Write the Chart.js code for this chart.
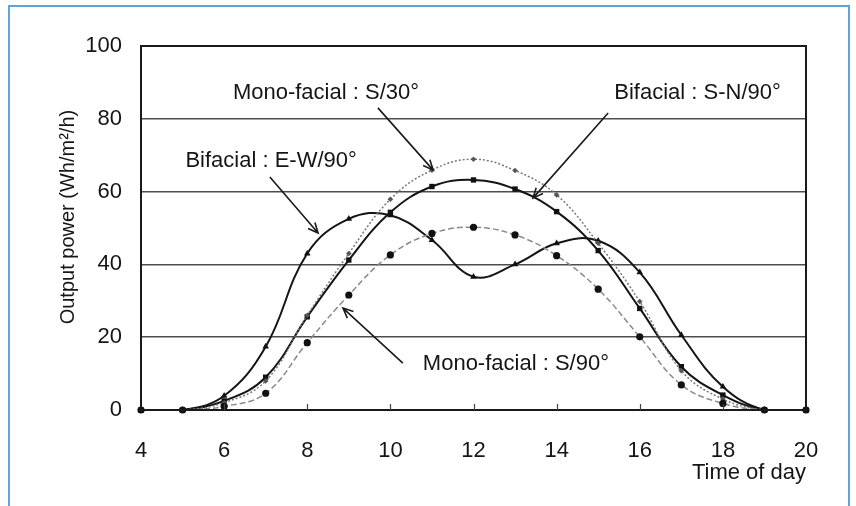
<!DOCTYPE html>
<html>
<head>
<meta charset="utf-8">
<title>Output power vs time of day</title>
<script src="https://cdn.jsdelivr.net/npm/chart.js@4.4.1/dist/chart.umd.min.js"></script>
<style>
  html, body { margin: 0; padding: 0; background: #ffffff; }
  #wrap { position: relative; width: 856px; height: 506px; overflow: hidden; }
  #c { position: absolute; left: 0; top: 0; }
  #frame {
    position: absolute; left: 8px; top: 5px; width: 842px; height: 540px;
    border: 2px solid #62a3dc; box-sizing: border-box; pointer-events: none;
  }
</style>
</head>
<body>
<div id="wrap">
  <canvas id="c" width="856" height="506"></canvas>
  <div id="frame"></div>
</div>
<script>
// Hourly output power (Wh/m²/h) for four module orientations
const hours = [4, 5, 6, 7, 8, 9, 10, 11, 12, 13, 14, 15, 16, 17, 18, 19, 20];
const bifacialEW = [0, 0, 3.9, 17.4, 43.0, 52.5, 53.5, 46.7, 36.6, 40.0, 45.8, 46.5, 37.8, 20.6, 6.4, 0, 0];
const bifacialSN = [0, 0, 2.5, 9.0, 25.6, 41.2, 54.3, 61.4, 63.2, 60.7, 54.5, 43.8, 27.9, 11.9, 4.1, 0, 0];
const monoS30    = [0, 0, 2.0, 8.0, 26.0, 43.0, 57.9, 65.9, 68.9, 65.8, 59.1, 45.8, 29.8, 10.8, 3.0, 0, 0];
const monoS90    = [0, 0, 1.0, 4.6, 18.5, 31.6, 42.6, 48.5, 50.2, 48.1, 42.4, 33.2, 20.1, 6.9, 1.8, 0, 0];
const xTicks = [4, 6, 8, 10, 12, 14, 16, 18, 20];
const yTicks = [0, 20, 40, 60, 80, 100];
const yTitle = 'Output power (Wh/m²/h)';

const FONT = "'Liberation Sans', Arial, sans-serif";
const TEXT = '#151515';

// Callout labels with arrows, placed in data coordinates
const callouts = [
  { text: 'Mono-facial : S/30°',  at: [8.45, 87.1],  from: [9.70, 83.0],  to: [11.03, 65.9] },
  { text: 'Bifacial : E-W/90°',   at: [7.13, 68.4],  from: [7.10, 64.0],  to: [8.26, 48.6] },
  { text: 'Bifacial : S-N/90°',   at: [17.39, 87.1], from: [15.24, 81.6], to: [13.43, 58.2] },
  { text: 'Mono-facial : S/90°',  at: [13.02, 12.6], from: [10.30, 12.9], to: [8.86, 28.0] }
];

const toPoints = vals => hours.map((h, i) => ({ x: h, y: vals[i] }));

// Plot frame, inward x tick marks, y-axis title and callouts
const decorations = {
  id: 'decorations',
  afterDatasetsDraw(chart) {
    const { ctx, chartArea: a, scales: { x, y } } = chart;
    ctx.save();
    ctx.strokeStyle = '#1a1a1a';
    ctx.lineWidth = 2;
    ctx.strokeRect(a.left, a.top, a.right - a.left, a.bottom - a.top);
    ctx.lineWidth = 1.2;
    ctx.strokeStyle = '#444';
    xTicks.slice(1, -1).forEach(v => {
      const px = Math.round(x.getPixelForValue(v)) + 0.5;
      ctx.beginPath();
      ctx.moveTo(px, a.bottom);
      ctx.lineTo(px, a.bottom - 6);
      ctx.stroke();
    });

    // rotated y-axis title, set a little above the axis centre
    ctx.fillStyle = TEXT;
    ctx.save();
    ctx.translate(a.left - 73, y.getPixelForValue(53));
    ctx.rotate(-Math.PI / 2);
    ctx.font = '20px ' + FONT;
    ctx.textAlign = 'center';
    ctx.textBaseline = 'middle';
    ctx.fillText(yTitle, 0, 0);
    ctx.restore();

    ctx.font = '22px ' + FONT;
    ctx.textAlign = 'center';
    ctx.textBaseline = 'middle';
    callouts.forEach(c => {
      ctx.fillText(c.text, x.getPixelForValue(c.at[0]), y.getPixelForValue(c.at[1]));
      const x1 = x.getPixelForValue(c.from[0]), y1 = y.getPixelForValue(c.from[1]);
      const x2 = x.getPixelForValue(c.to[0]), y2 = y.getPixelForValue(c.to[1]);
      ctx.strokeStyle = '#1a1a1a';
      ctx.lineWidth = 1.6;
      ctx.beginPath();
      ctx.moveTo(x1, y1);
      ctx.lineTo(x2, y2);
      const ang = Math.atan2(y2 - y1, x2 - x1);
      const L = 11, spread = 0.42;
      ctx.moveTo(x2 - L * Math.cos(ang - spread), y2 - L * Math.sin(ang - spread));
      ctx.lineTo(x2, y2);
      ctx.lineTo(x2 - L * Math.cos(ang + spread), y2 - L * Math.sin(ang + spread));
      ctx.stroke();
    });
    ctx.restore();
  }
};

const whiteBg = {
  id: 'whiteBg',
  beforeDraw(chart) {
    const { ctx, width, height } = chart;
    ctx.save();
    ctx.fillStyle = '#ffffff';
    ctx.fillRect(0, 0, width, height);
    ctx.restore();
  }
};

new Chart(document.getElementById('c'), {
  type: 'line',
  data: {
    datasets: [
      {
        label: 'Mono-facial : S/90°',
        data: toPoints(monoS90),
        borderColor: '#8a8a8a', borderWidth: 1.5, borderDash: [6, 3],
        pointStyle: 'circle', pointRadius: 3.6,
        pointBackgroundColor: '#111', pointBorderColor: '#111', pointBorderWidth: 0
      },
      {
        label: 'Mono-facial : S/30°',
        data: toPoints(monoS30),
        borderColor: '#777777', borderWidth: 1.5, borderDash: [2, 2],
        pointStyle: 'rectRot', pointRadius: 2.8,
        pointBackgroundColor: '#555', pointBorderColor: '#555', pointBorderWidth: 0
      },
      {
        label: 'Bifacial : S-N/90°',
        data: toPoints(bifacialSN),
        borderColor: '#141414', borderWidth: 2,
        pointStyle: 'rect', pointRadius: 3.8,
        pointBackgroundColor: '#111', pointBorderColor: '#111', pointBorderWidth: 0
      },
      {
        label: 'Bifacial : E-W/90°',
        data: toPoints(bifacialEW),
        borderColor: '#141414', borderWidth: 2,
        pointStyle: 'triangle', pointRadius: 3.8,
        pointBackgroundColor: '#111', pointBorderColor: '#111', pointBorderWidth: 0
      }
    ]
  },
  options: {
    responsive: false,
    animation: false,
    devicePixelRatio: 1,
    layout: { padding: { left: 51, top: 46, right: 50, bottom: 10 } },
    elements: { line: { tension: 0.4, fill: false } },
    datasets: { line: { clip: false } },
    plugins: { legend: { display: false }, tooltip: { enabled: false } },
    scales: {
      x: {
        type: 'linear', min: 4, max: 20,
        afterBuildTicks: s => { s.ticks = xTicks.map(v => ({ value: v })); },
        afterFit: s => { s.height = 86; },
        grid: { display: false, drawTicks: false },
        border: { display: false },
        ticks: { color: TEXT, font: { family: FONT, size: 22 }, padding: 28, maxRotation: 0 },
        title: {
          display: true, text: 'Time of day', align: 'end',
          color: TEXT, font: { family: FONT, size: 22 }, padding: { top: 0, bottom: 10 }
        }
      },
      y: {
        min: 0, max: 100,
        afterBuildTicks: s => { s.ticks = yTicks.map(v => ({ value: v })); },
        afterFit: s => { s.width = 90; },
        grid: { color: '#4d4d4d', lineWidth: 1.5, drawTicks: false },
        border: { display: false },
        ticks: { color: TEXT, font: { family: FONT, size: 22 }, padding: 19 }
      }
    }
  },
  plugins: [whiteBg, decorations]
});
</script>
</body>
</html>
